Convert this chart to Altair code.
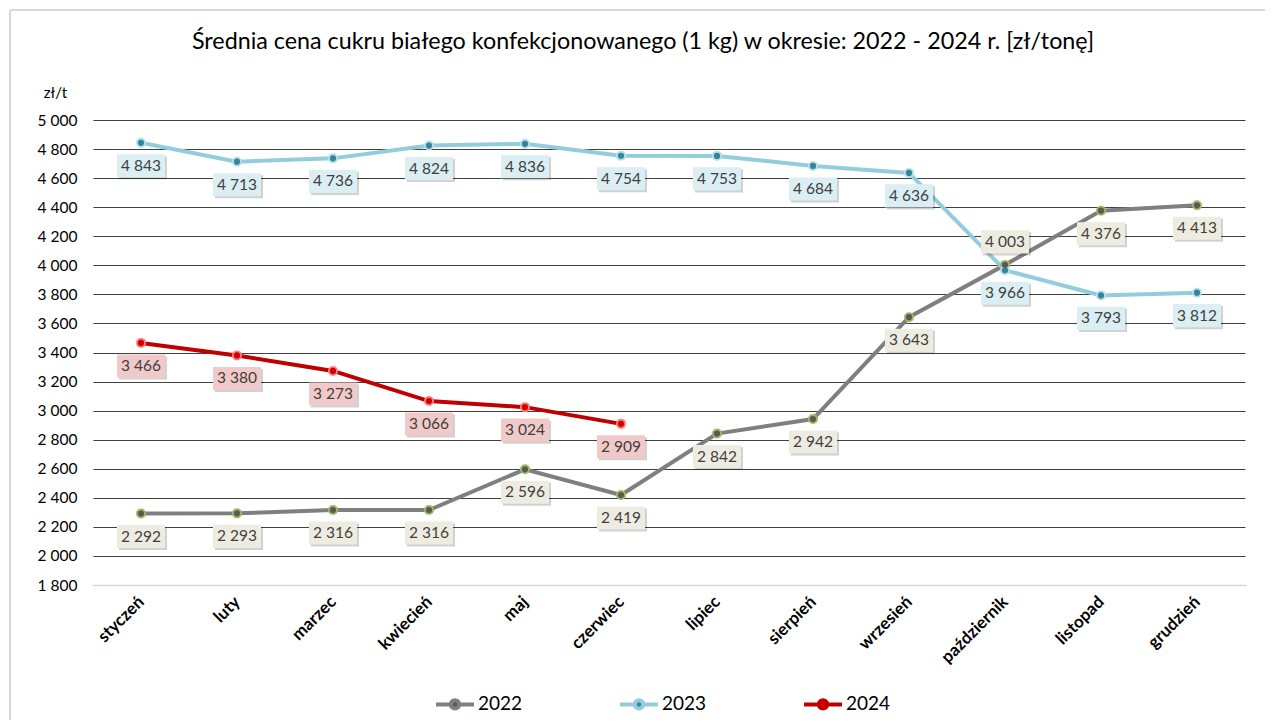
import altair as alt
import pandas as pd

months = ["styczeń", "luty", "marzec", "kwiecień", "maj", "czerwiec",
          "lipiec", "sierpień", "wrzesień", "październik", "listopad", "grudzień"]
years = ["2022", "2023", "2024"]
v2022 = [2292, 2293, 2316, 2316, 2596, 2419, 2842, 2942, 3643, 4003, 4376, 4413]
v2023 = [4843, 4713, 4736, 4824, 4836, 4754, 4753, 4684, 4636, 3966, 3793, 3812]
v2024 = [3466, 3380, 3273, 3066, 3024, 2909]
y_ticks = list(range(1800, 5001, 200))
labels_above = [("2022", "październik")]

title = "Średnia cena cukru białego konfekcjonowanego (1 kg) w okresie: 2022 - 2024 r. [zł/tonę]"

line_colors = ["#7F7F7F", "#93CDDD", "#C00000"]
point_fill = ["#595959", "#31859C", "#D00000"]
point_ring = ["#9BBB59", "#B7DEE8", "#FF7C7C"]
box_fill = ["#EEECE1", "#DAEEF3", "#F2C9C9"]

rows = []
for y, vals in zip(years, [v2022, v2023, v2024]):
    for m, v in zip(months, vals):
        rows.append({"month": m, "year": y, "value": v,
                     "pos": "above" if (y, m) in labels_above else "below"})
df = pd.DataFrame(rows)

FONT = "Lato"
x_enc = alt.X("month:N", sort=months, scale=alt.Scale(paddingInner=0, paddingOuter=0),
              axis=alt.Axis(title=None, labelAngle=-45, labelAlign="right", labelBaseline="middle",
                            labelFontWeight="bold", labelFontSize=17, labelColor="#000",
                            labelPadding=14, ticks=False, domainColor="#D9D9D9", domainWidth=1.5,
                            grid=False))
y_enc = alt.Y("value:Q", scale=alt.Scale(domain=[1800, 5000], nice=False, zero=False),
              axis=alt.Axis(values=y_ticks, title="zł/t", titleAngle=0, titleX=-38, titleY=-28,
                            titleAlign="center", titleBaseline="middle", titleFontWeight="normal",
                            titleFontSize=15, titleColor="#000",
                            labelExpr="replace(format(datum.value, ',d'), ',', ' ')",
                            labelFontSize=15.5, labelColor="#000", labelPadding=16, ticks=False,
                            domain=False, gridColor="#404040", gridWidth=1))

base = alt.Chart(df)

line = base.mark_line(strokeWidth=4).encode(
    x=x_enc, y=y_enc,
    stroke=alt.Stroke("year:N", scale=alt.Scale(domain=years, range=line_colors),
                      legend=alt.Legend(title=None, orient="none", direction="horizontal",
                                        legendX=341, legendY=563,
                                        symbolType="M-1,0H-0.22M0.22,0H1M0.22,0A0.22,0.22,0,1,1,-0.22,0A0.22,0.22,0,1,1,0.22,0Z",
                                        symbolSize=1444, symbolStrokeWidth=4,
                                        labelFontSize=19, labelColor="#000", labelOffset=2,
                                        columnPadding=89)),
    detail="year:N",
)

fill_pts = base.mark_circle(size=38, opacity=1).encode(
    x=x_enc, y=y_enc,
    fill=alt.Fill("year:N", scale=alt.Scale(domain=years, range=point_fill), legend=None),
)

ring_layers = []
label_layers = []
rect_shape = "M-1,-0.48H1V0.48H-1Z"
for i, y in enumerate(years):
    sub = base.transform_filter(alt.datum.year == y)
    ring_layers.append(sub.mark_circle(size=100, opacity=1, color=point_ring[i]).encode(x=x_enc, y=y_enc))
    for pos, off in [("below", 23), ("above", -23)]:
        s2 = sub.transform_filter(alt.datum.pos == pos).transform_calculate(
            lbl="replace(format(datum.value, ',d'), ',', ' ')")
        label_layers.append(s2.mark_point(shape=rect_shape, size=2304, filled=True, fill="#000",
                                          opacity=0.18, xOffset=2, yOffset=off + 2, strokeWidth=0)
                            .encode(x=x_enc, y=y_enc))
        label_layers.append(s2.mark_point(shape=rect_shape, size=2304, filled=True, fill=box_fill[i],
                                          opacity=1, yOffset=off, strokeWidth=0)
                            .encode(x=x_enc, y=y_enc))
        label_layers.append(s2.mark_text(fontSize=15.5, color="#404040", yOffset=off, baseline="middle")
                            .encode(x=x_enc, y=y_enc, text="lbl:N"))

# light frame around the whole chart (decoration)
frame_data = alt.Data(values=[{}])
frame_top = alt.Chart(frame_data).mark_rule(color="#D9D9D9", strokeWidth=2).encode(
    x=alt.value(-83), x2=alt.value(1200), y=alt.value(-110))
frame_left = alt.Chart(frame_data).mark_rule(color="#D9D9D9", strokeWidth=2).encode(
    x=alt.value(-83), y=alt.value(-110), y2=alt.value(600))

chart = alt.layer(frame_top, frame_left, line, *ring_layers, fill_pts, *label_layers).properties(
    width=1152, height=465,
    title=alt.TitleParams(title, fontSize=23.3, font=FONT, fontWeight="normal", color="#000",
                          anchor="middle", dx=-26, offset=-45),
    autosize=alt.AutoSizeParams(type="none"),
    padding={"left": 85, "top": 112, "right": 20, "bottom": 135},
).configure(font=FONT).configure_view(stroke=None)

chart.save("out.html", embed_options={"renderer": "svg", "actions": False})
